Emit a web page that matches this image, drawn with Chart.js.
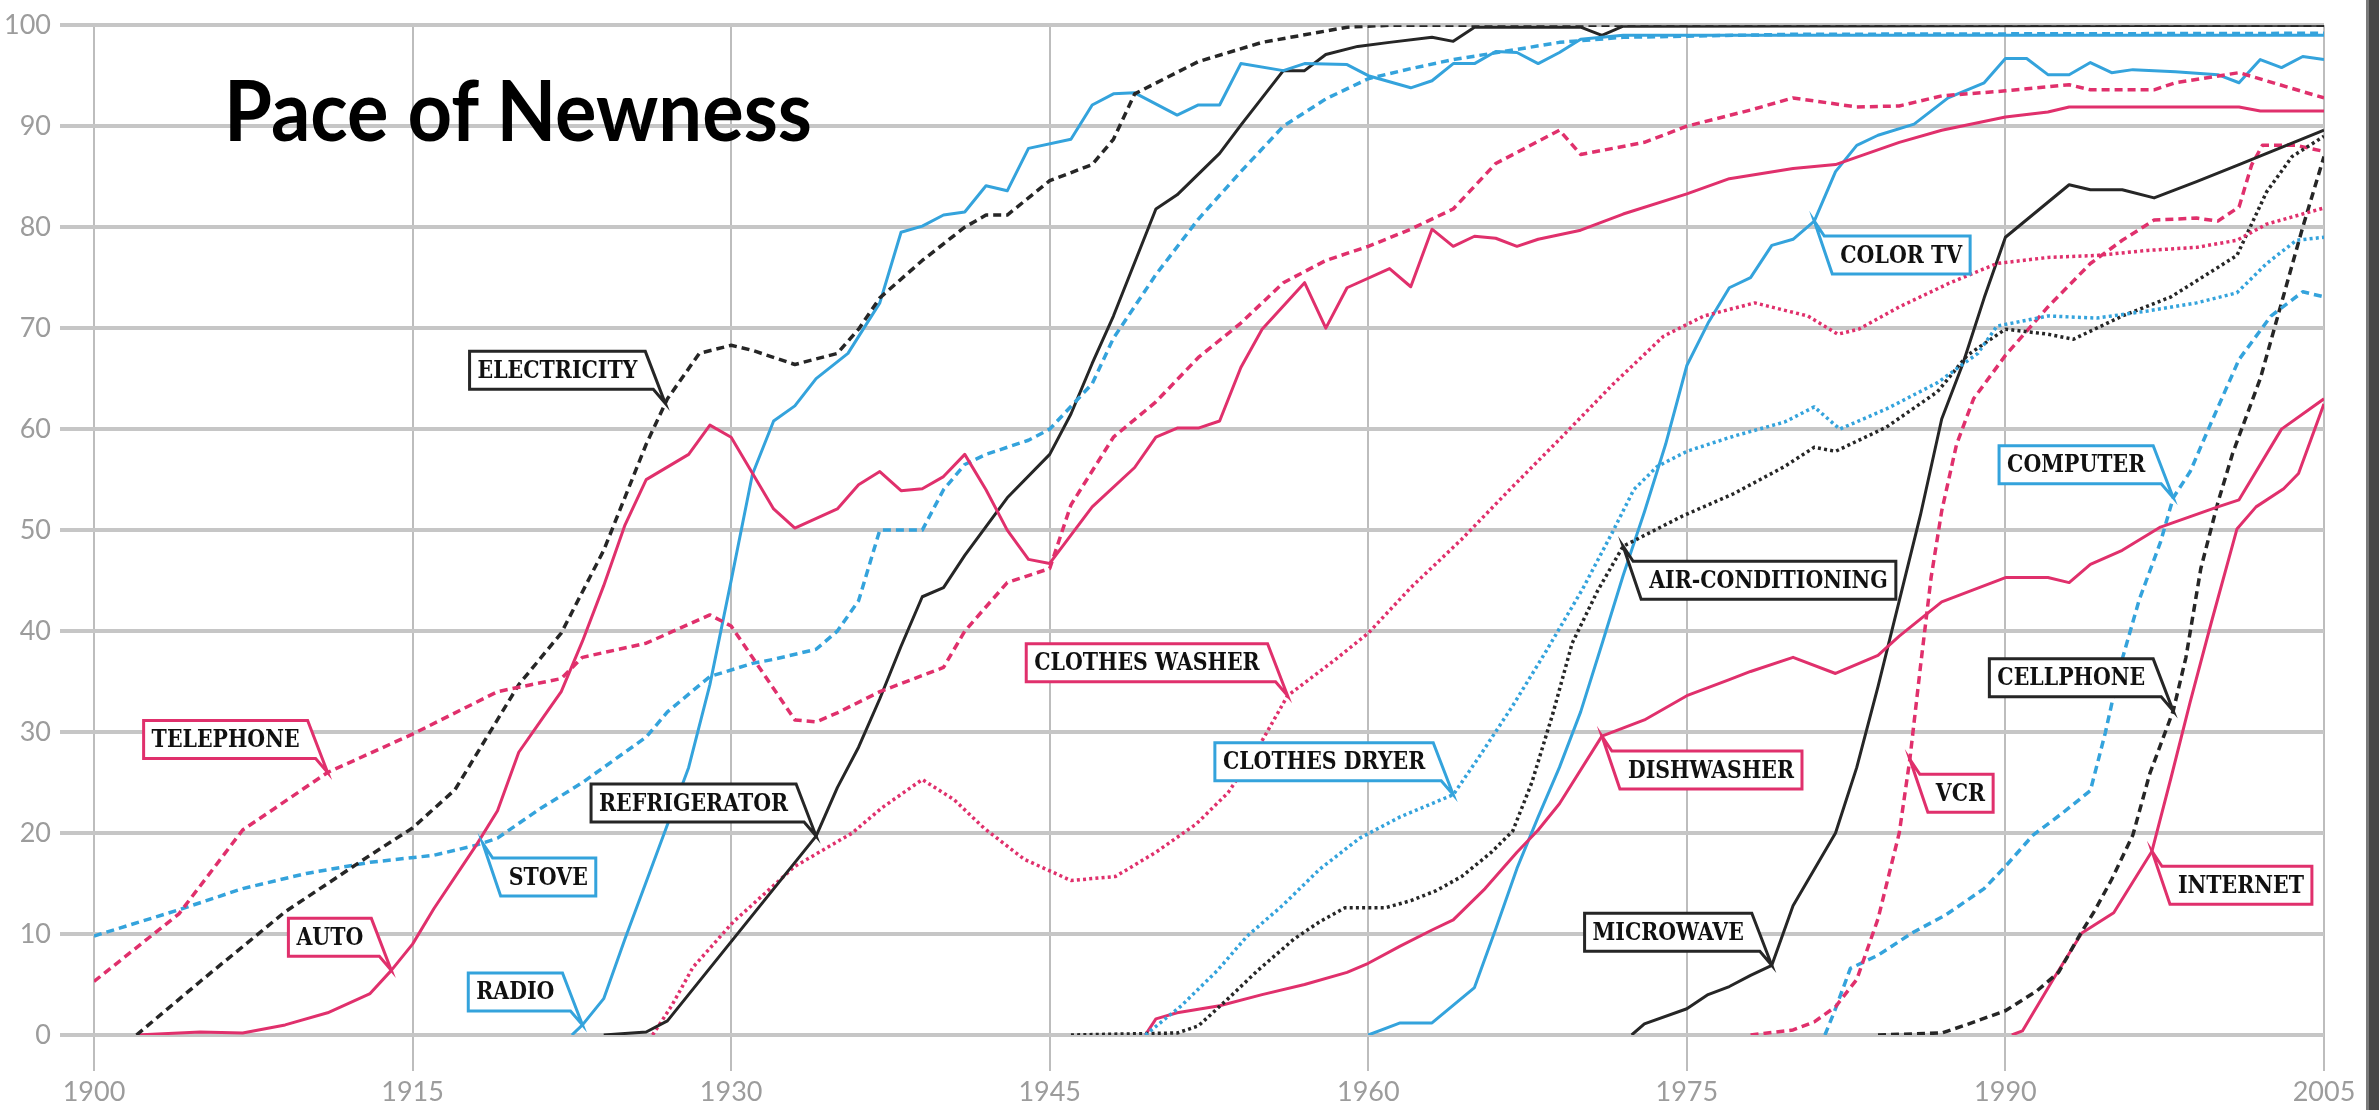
<!DOCTYPE html>
<html><head><meta charset="utf-8">
<script src="https://cdn.jsdelivr.net/npm/chart.js@4.4.1/dist/chart.umd.min.js"></script>
<style>
html,body{margin:0;padding:0;background:#fff;overflow:hidden;}
#wrap{position:relative;width:2379px;height:1110px;background:#fff;}
#c{position:absolute;left:0;top:0;}
#title{position:absolute;left:224px;top:67px;font-family:Lato,sans-serif;font-weight:bold;font-size:84px;line-height:84px;color:#000;white-space:nowrap;transform-origin:0 0;z-index:2;}
#bar{position:absolute;left:2366px;top:0;width:10px;height:1110px;background:#474747;border-left:3px solid #7a7a7a;z-index:5;}
</style></head><body>
<div id="wrap"><canvas id="c" width="2379" height="1110"></canvas><div id="title">Pace of Newness</div><div id="bar"></div></div>
<script>
// ---- data: [year, percent of households] ----
const telephone = [[1900,5.3],[1904,12],[1907,20.3],[1911,26],[1915,29.8],[1919,34],[1922,35.3],[1923,37.4],[1926,38.8],[1929,41.6],[1930,40.5],[1931,37.4],[1933,31.2],[1934,31],[1935,31.9],[1937,34],[1940,36.4],[1941,40],[1943,44.8],[1945,46.2],[1946,52.5],[1948,59.2],[1950,62.7],[1952,67.1],[1954,70.5],[1956,74.5],[1958,76.7],[1960,78.1],[1962,79.8],[1964,81.8],[1966,86.3],[1969,89.6],[1970,87.2],[1973,88.4],[1975,90],[1978,91.6],[1980,92.8],[1983,91.9],[1985,92],[1987,93],[1990,93.5],[1993,94.1],[1994,93.6],[1997,93.6],[1998,94.3],[2001,95.3],[2005,92.8]];
const electricity = [[1902,0],[1905,5.3],[1909,12.2],[1913,17.8],[1915,20.5],[1917,24.3],[1920,34.7],[1922,39.8],[1924,48],[1926,58.5],[1927,63],[1928.5,67.5],[1930,68.3],[1931,67.8],[1933,66.4],[1935,67.5],[1936,69.9],[1937,73],[1939,76.7],[1941,80],[1942,81.2],[1943,81.2],[1945,84.6],[1947,86.2],[1948,88.7],[1949,93.2],[1952,96.4],[1955,98.3],[1959,99.8],[1961,100],[2005,100]];
const auto = [[1902,0],[1905,0.3],[1907,0.2],[1909,1],[1911,2.2],[1913,4.1],[1914,6.4],[1915,9],[1916,12.5],[1918,18.8],[1919,22.2],[1920,28],[1921,31],[1922,34],[1923,39],[1924,44.5],[1925,50.5],[1926,55],[1928,57.5],[1929,60.4],[1930,59.2],[1932,52.1],[1933,50.2],[1935,52.1],[1936,54.5],[1937,55.8],[1938,53.9],[1939,54.1],[1940,55.3],[1941,57.5],[1942,54],[1943,50],[1944,47.1],[1945,46.7],[1946,49.5],[1947,52.3],[1949,56.2],[1950,59.2],[1951,60.1],[1952,60.1],[1953,60.8],[1954,66.1],[1955,69.9],[1957,74.5],[1958,70],[1959,74],[1961,75.9],[1962,74.1],[1963,79.8],[1964,78.1],[1965,79.1],[1966,78.9],[1967,78.1],[1968,78.8],[1970,79.7],[1972,81.3],[1975,83.3],[1977,84.8],[1980,85.8],[1982,86.2],[1985,88.4],[1987,89.6],[1990,90.9],[1992,91.4],[1993,91.9],[2001,91.9],[2002,91.5],[2005,91.5]];
const stove = [[1900,9.8],[1904,12.4],[1907,14.5],[1910,16],[1913,17.1],[1916,17.8],[1918,18.8],[1919,19.5],[1921,22.4],[1923,25],[1924,26.5],[1926,29.5],[1927,32],[1929,35.5],[1931,36.8],[1932,37.2],[1934,38.2],[1935,40],[1936,43],[1937,50],[1939,50],[1940,54],[1941,56.5],[1942,57.5],[1944,58.9],[1945,60],[1947,64.5],[1948,69],[1950,75.3],[1952,80.8],[1954,85.5],[1956,90],[1958,92.7],[1960,94.7],[1962,95.7],[1964,96.6],[1967,97.6],[1969,98.3],[1972,98.8],[1980,99.1],[2005,99.2]];
const radio = [[1922.5,0],[1923,1],[1924,3.6],[1925,9.5],[1926.5,18],[1928,26.5],[1929,34.7],[1930,45],[1931,55.5],[1932,60.8],[1933,62.3],[1934,65],[1935.5,67.5],[1937,72.5],[1938,79.5],[1939,80.1],[1940,81.2],[1941,81.5],[1942,84.1],[1943,83.6],[1944,87.8],[1946,88.7],[1947,92.1],[1948,93.2],[1949,93.3],[1951,91.1],[1952,92.1],[1953,92.1],[1954,96.2],[1956,95.5],[1957,96.2],[1959,96.1],[1960,95],[1962,93.8],[1963,94.5],[1964,96.2],[1965,96.2],[1966,97.4],[1967,97.3],[1968,96.2],[1969,97.3],[1970,98.6],[1972,99],[2005,99]];
const refrigerator = [[1924,0],[1926,0.3],[1927,1.4],[1934,19.7],[1935,24.5],[1936,28.5],[1937,33.3],[1938,38.5],[1939,43.4],[1940,44.3],[1941,47.5],[1943,53.2],[1945,57.5],[1946,61.5],[1947,66.5],[1948,71.2],[1950,81.8],[1951,83.2],[1953,87.3],[1954,90.1],[1955,92.8],[1956,95.5],[1957,95.5],[1958,97.1],[1959.5,97.9],[1961,98.3],[1963,98.8],[1964,98.4],[1965,99.8],[1970,99.8],[1971,99],[1972,99.9],[2005,100]];
const clothesWasher = [[1926.3,0],[1927.2,2.9],[1928.2,6.7],[1930.1,11.2],[1933,16.7],[1935.7,20],[1937.1,22.5],[1939,25.3],[1940.5,23.3],[1941.9,20.5],[1943.8,17.4],[1946,15.3],[1948.1,15.7],[1950,18.1],[1951.9,20.9],[1953.4,24],[1954.8,28.4],[1956.2,33.6],[1958.4,37.1],[1960,39.8],[1962,44.3],[1964.4,49.1],[1966.7,54.1],[1969.1,59.2],[1971.5,64.4],[1973.9,69.2],[1975.8,71.2],[1978.2,72.5],[1980.7,71.2],[1982.1,69.4],[1983.1,69.9],[1985,72.1],[1987.3,74.4],[1989.6,76.4],[1992,77],[1994.3,77.2],[1996.7,77.7],[1999,78],[2000.9,78.7],[2002.3,80.3],[2005,81.9]];
const clothesDryer = [[1949.5,0],[1951.2,2.9],[1952.9,6.4],[1954.3,9.8],[1956,12.9],[1957.7,16.4],[1959.6,19.5],[1961.5,21.6],[1964,23.8],[1965.3,27.8],[1966.8,32.6],[1968.4,38.1],[1970.1,44.2],[1971.5,49.8],[1972.5,54],[1973.6,56.3],[1975,57.8],[1977.2,59.3],[1979.6,60.7],[1981,62.2],[1982.2,60],[1984.4,62],[1986.8,64.6],[1988.7,67.5],[1989.6,70.2],[1992,71.2],[1994.3,71],[1996.7,71.7],[1999,72.5],[2000.9,73.5],[2002.3,76.4],[2003.7,78.7],[2005,79]];
const airConditioning = [[1946,0],[1951,0.2],[1952,0.9],[1953.4,3.6],[1954.8,6.4],[1956.5,9.5],[1957.7,11.2],[1958.9,12.6],[1960.8,12.6],[1962,13.3],[1963.2,14.3],[1964.4,15.7],[1965.8,18.1],[1966.8,20.2],[1967.7,25],[1968.7,31.9],[1969.6,38.8],[1970.8,44],[1972,48.4],[1974.8,51.4],[1977.2,53.6],[1979.6,56.3],[1981,58.2],[1982,57.8],[1984.4,60.2],[1986.8,63.7],[1988.2,67.3],[1990,69.9],[1992,69.4],[1993.2,68.9],[1995.5,71.2],[1997.8,73.1],[2000.9,77.2],[2002.3,83.5],[2003.5,87],[2005,89]];
const dishwasher = [[1949.5,0],[1950,1.6],[1951,2.2],[1953,2.9],[1955,4],[1957,5],[1959,6.2],[1960,7.1],[1961.5,8.8],[1963,10.4],[1964,11.4],[1965.5,14.5],[1967,18.1],[1968,20.3],[1969,22.9],[1971,29.6],[1973,31.2],[1975,33.6],[1977,35.2],[1978,36],[1980,37.4],[1982,35.8],[1984,37.6],[1985,39.5],[1987,42.9],[1990,45.3],[1992,45.3],[1993,44.8],[1994,46.6],[1995.5,48],[1997.3,50.3],[2000,52.3],[2001,53],[2003,60],[2005,63]];
const colorTV = [[1960,0],[1961.5,1.2],[1963,1.2],[1965,4.7],[1966,10.5],[1967,16.5],[1968,21.6],[1969,26.5],[1970,32],[1971,38.7],[1972,45.5],[1973,51.8],[1974,58.5],[1975,66.3],[1976,70.5],[1977,74],[1978,75],[1979,78.2],[1980,78.8],[1981,80.6],[1982,85.5],[1983,88.1],[1984,89.1],[1985.7,90.2],[1987.3,92.8],[1989,94.3],[1990,96.7],[1991,96.7],[1992,95.1],[1993,95.1],[1994,96.3],[1995,95.3],[1996,95.6],[1998,95.4],[2000,95.1],[2001,94.3],[2002,96.6],[2003,95.8],[2004,96.9],[2005,96.6]];
const microwave = [[1972.4,0],[1973,1.1],[1975,2.6],[1976,4],[1977,4.8],[1978,5.9],[1979,6.9],[1980,12.8],[1982,20],[1983,26.5],[1984,34.5],[1985,43],[1986,51.5],[1987,61],[1988,66.5],[1989,73],[1990,79],[1993,84.2],[1994,83.7],[1995.5,83.7],[1997,82.9],[1999,84.5],[2001,86.2],[2005,89.6]];
const vcr = [[1978,0],[1980,0.5],[1981,1.3],[1982,2.8],[1983,5.5],[1984,11.5],[1985,20],[1985.5,27.3],[1986,36.5],[1986.5,45.3],[1987,51.9],[1987.7,58.5],[1988.5,63],[1990,67.3],[1992,72.1],[1994,76.4],[1995.5,78.7],[1997,80.7],[1999,80.9],[2000,80.6],[2001,82],[2001.6,86.2],[2002.1,88.1],[2003.7,88.1],[2005,87.5]];
const computer = [[1981.5,0],[1982,2.6],[1982.7,6.6],[1984,7.9],[1985.6,10.1],[1987.2,11.9],[1989,14.5],[1990,16.7],[1991.3,19.8],[1992.7,22],[1994,24.2],[1994.7,29.9],[1995.4,36.5],[1996.3,43.1],[1997.3,48.8],[1997.9,53.2],[1998.7,55.8],[1999.7,60.7],[2001,66.9],[2002.5,71.2],[2004,73.6],[2005,73.1]];
const cellphone = [[1984,0],[1987,0.2],[1988,0.9],[1990,2.4],[1991.5,4.4],[1992.5,6.2],[1993.5,9.9],[1994.2,12.3],[1995,15.4],[1996,19.8],[1996.8,25.9],[1997.9,32.1],[1998.5,37.4],[1999.2,46.2],[2000,52.7],[2000.7,57.6],[2002,65],[2003,72.5],[2004,80],[2005,87]];
const internet = [[1990.3,0],[1990.8,0.4],[1992.3,5.7],[1993.6,10.1],[1995.1,12.1],[1996.9,18.2],[1997.8,25.5],[1998.7,33],[1999.7,40.9],[2000.9,50.1],[2001.8,52.3],[2003.1,54.1],[2003.8,55.6],[2005,62.5]];
const xTickYears = [1900,1915,1930,1945,1960,1975,1990,2005];

// ---- styles ----
const PINK = '#e0306c', BLUE = '#34a3dc', BLACK = '#262626';
const STYLE = {
  solid:  {w:3,   dash:[]},
  dashed: {w:3.5, dash:[8,5]},
  dotted: {w:3.5, dash:[3,3.2]}
};
const series = [
  {name:'Telephone', data:telephone, color:PINK, style:'dashed'},
  {name:'Electricity', data:electricity, color:BLACK, style:'dashed'},
  {name:'Auto', data:auto, color:PINK, style:'solid'},
  {name:'Stove', data:stove, color:BLUE, style:'dashed'},
  {name:'Radio', data:radio, color:BLUE, style:'solid'},
  {name:'Refrigerator', data:refrigerator, color:BLACK, style:'solid'},
  {name:'Clothes washer', data:clothesWasher, color:PINK, style:'dotted'},
  {name:'Clothes dryer', data:clothesDryer, color:BLUE, style:'dotted'},
  {name:'Air-conditioning', data:airConditioning, color:BLACK, style:'dotted'},
  {name:'Dishwasher', data:dishwasher, color:PINK, style:'solid'},
  {name:'Color TV', data:colorTV, color:BLUE, style:'solid'},
  {name:'Microwave', data:microwave, color:BLACK, style:'solid'},
  {name:'VCR', data:vcr, color:PINK, style:'dashed'},
  {name:'Computer', data:computer, color:BLUE, style:'dashed'},
  {name:'Cellphone', data:cellphone, color:BLACK, style:'dashed'},
  {name:'Internet', data:internet, color:PINK, style:'solid'}
];
// callouts: anchored on a series at a given year
const callouts = [
  {text:'TELEPHONE', data:telephone, year:1911, side:'br', color:PINK},
  {text:'AUTO', data:auto, year:1914, side:'br', color:PINK},
  {text:'STOVE', data:stove, year:1918.3, side:'tl', color:BLUE},
  {text:'RADIO', data:radio, year:1923, side:'br', color:BLUE},
  {text:'ELECTRICITY', data:electricity, year:1926.9, side:'br', color:BLACK},
  {text:'REFRIGERATOR', data:refrigerator, year:1934, side:'br', color:BLACK},
  {text:'CLOTHES WASHER', data:clothesWasher, year:1956.2, side:'br', color:PINK},
  {text:'CLOTHES DRYER', data:clothesDryer, year:1964, side:'br', color:BLUE},
  {text:'DISHWASHER', data:dishwasher, year:1971, side:'tl', color:PINK},
  {text:'AIR-CONDITIONING', data:airConditioning, year:1972, side:'tl', color:BLACK},
  {text:'MICROWAVE', data:microwave, year:1979, side:'br', color:BLACK},
  {text:'COLOR TV', data:colorTV, year:1981, side:'tl', color:BLUE},
  {text:'VCR', data:vcr, year:1985.5, side:'tl', color:PINK},
  {text:'COMPUTER', data:computer, year:1997.9, side:'br', color:BLUE},
  {text:'CELLPHONE', data:cellphone, year:1997.9, side:'br', color:BLACK},
  {text:'INTERNET', data:internet, year:1996.9, side:'tl', color:PINK}
];

function valueAt(arr, yr){
  for (let i=0;i<arr.length-1;i++){
    const [x0,y0]=arr[i],[x1,y1]=arr[i+1];
    if (yr>=x0 && yr<=x1) return y0+(y1-y0)*(yr-x0)/(x1-x0);
  }
  return arr[arr.length-1][1];
}

const LABEL_FONT = 'bold 25px "DejaVu Serif"';
const calloutPlugin = {
  id:'callouts',
  afterDatasetsDraw(chart){
    const ctx = chart.ctx, xs = chart.scales.x, ys = chart.scales.y;
    ctx.save();
    ctx.font = LABEL_FONT;
    const s = 148 / ctx.measureText('TELEPHONE').width;
    const H = 38, pad = 8;
    callouts.forEach(c=>{
      const tx = xs.getPixelForValue(c.year), ty = ys.getPixelForValue(valueAt(c.data, c.year));
      const tw = ctx.measureText(c.text).width * s;
      const W = tw + 2*pad;
      let L,T,R,B;
      ctx.beginPath();
      if (c.side==='br'){
        R = tx - 20; B = ty - 14; T = B - H; L = R - W;
        ctx.moveTo(L,T); ctx.lineTo(R,T); ctx.lineTo(tx,ty); ctx.lineTo(R+8,B); ctx.lineTo(L,B);
      } else {
        L = tx + 18; T = ty + 15; B = T + H; R = L + W;
        ctx.moveTo(L,B); ctx.lineTo(tx,ty); ctx.lineTo(L-8,T); ctx.lineTo(R,T); ctx.lineTo(R,B);
      }
      ctx.closePath();
      ctx.fillStyle = '#fff'; ctx.fill();
      ctx.lineWidth = 3; ctx.lineJoin = 'miter'; ctx.strokeStyle = c.color; ctx.stroke();
      ctx.save();
      ctx.translate((L+R)/2, (T+B)/2 + 1);
      ctx.scale(s,1);
      ctx.fillStyle = '#111'; ctx.textAlign='center'; ctx.textBaseline='middle';
      ctx.fillText(c.text, 0, 0);
      ctx.restore();
    });
    ctx.restore();
  },
  afterDraw(chart){
    // page-edge strip of the source screenshot
    const ctx = chart.ctx;
    ctx.save();
    ctx.fillStyle = '#7a7a7a';
    ctx.fillRect(2366, 0, 3, chart.height);
    ctx.fillStyle = '#474747';
    ctx.fillRect(2369, 0, 10, chart.height);
    ctx.restore();
  }
};

const datasets = series.map(sr=>({
  label: sr.name,
  data: sr.data.map(([x,y])=>({x,y})),
  borderColor: sr.color,
  backgroundColor: sr.color,
  borderWidth: STYLE[sr.style].w,
  borderDash: STYLE[sr.style].dash,
  fill:false, pointRadius:0, tension:0
}));

const tickFont = {family:'Lato', size:27};
new Chart(document.getElementById('c'), {
  type:'line',
  data:{datasets},
  options:{
    responsive:false, animation:false, devicePixelRatio:1,
    layout:{padding:{top:15,right:55,left:0,bottom:0}},
    plugins:{legend:{display:false}, tooltip:{enabled:false}, title:{display:false}},
    elements:{line:{borderCapStyle:'butt', borderJoinStyle:'round'}, point:{radius:0}},
    scales:{
      x:{type:'linear', min:1900, max:2005,
        afterFit(s){ s.height = 75; },
        afterBuildTicks(s){ s.ticks = xTickYears.map(v=>({value:v})); },
        border:{display:false},
        grid:{color:'#bdbdbd', lineWidth:2, tickLength:36, drawTicks:true},
        ticks:{autoSkip:false, maxRotation:0, padding:5, color:'#9c9c9c', font:tickFont, callback:v=>String(v)}},
      y:{min:0, max:100,
        afterFit(s){ s.width = 94; },
        border:{display:false},
        grid:{color:'#c6c6c6', lineWidth:4, tickLength:34},
        ticks:{stepSize:10, padding:9, color:'#9c9c9c', font:tickFont}}
    }
  },
  plugins:[calloutPlugin]
});

// title width fit
(function(){
  const t = document.getElementById('title');
  const w = t.getBoundingClientRect().width;
  t.style.transform = 'scaleX(' + (588 / w) + ')';
})();
</script>
</body></html>
